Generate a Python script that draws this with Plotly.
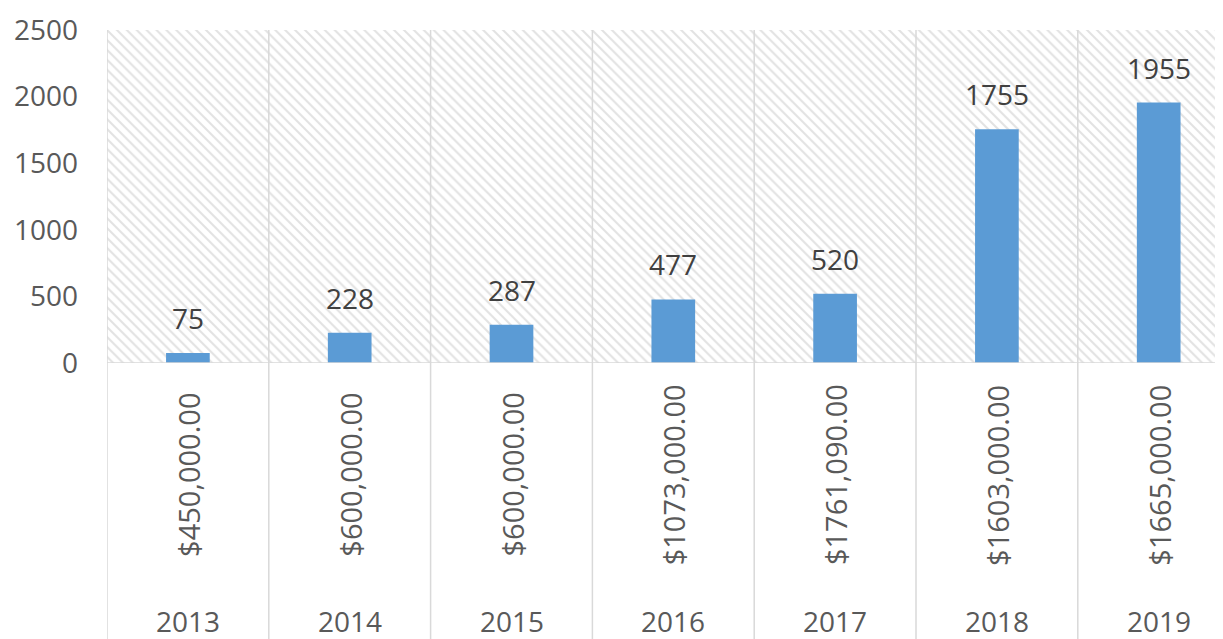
import plotly.graph_objects as go

years = ["2013", "2014", "2015", "2016", "2017", "2018", "2019"]
funding = ["$450,000.00", "$600,000.00", "$600,000.00", "$1073,000.00",
           "$1761,090.00", "$1603,000.00", "$1665,000.00"]
values = [75, 228, 287, 477, 520, 1755, 1955]
y_ticks = [0, 500, 1000, 1500, 2000, 2500]
y_max = 2500

FONT = "Open Sans"
TXT = "#595959"
GRID = "#d9d9d9"

# page body has an 8px margin, so the figure is drawn 8px in from the window edges
W, H = 1215, 631
ML, MT, MB, MR = 99, 22, 276, 0
ph = H - MT - MB
pw = W - ML - MR
cat_px = 161.8

fig = go.Figure()

# hatched plot-area background
fig.add_trace(go.Bar(
    x=list(range(len(years))), y=[y_max] * len(years), width=1,
    marker=dict(color="white", line=dict(width=0),
                pattern=dict(shape="\\", fgcolor="#c6c6c6", bgcolor="white",
                             size=7, solidity=0.3)),
    hoverinfo="skip", showlegend=False,
))

fig.add_trace(go.Bar(
    x=list(range(len(years))), y=values, width=0.27,
    marker=dict(color="#5B9BD5", line=dict(width=0)),
    showlegend=False,
))

n = len(years)
fig.update_layout(
    width=W, height=H, barmode="overlay",
    margin=dict(l=ML, r=MR, t=MT, b=MB),
    paper_bgcolor="white", plot_bgcolor="white",
    xaxis=dict(range=[-0.5, -0.5 + pw / cat_px], showticklabels=False,
               showgrid=False, zeroline=False, showline=False, ticks=""),
    yaxis=dict(range=[0, y_max], tickvals=y_ticks, ticktext=[str(t) for t in y_ticks],
               showgrid=True, gridcolor=GRID, gridwidth=1.5, zeroline=False,
               showline=False, ticks="", ticklabelstandoff=28,
               tickfont=dict(family=FONT, size=28, color=TXT)),
)

y_bottom = -MB / ph - 0.05
# vertical category separators running through the label area
for i in range(n + 1):
    fig.add_shape(type="line", xref="x", yref="paper", x0=i - 0.5, x1=i - 0.5,
                  y0=y_bottom, y1=1, line=dict(color=GRID, width=1.5), layer="above")
# baseline
fig.add_shape(type="line", xref="paper", yref="y", x0=0, x1=1, y0=0, y1=0,
              line=dict(color=GRID, width=1.5), layer="above")

for i in range(n):
    # value labels
    fig.add_annotation(x=i, y=values[i], xref="x", yref="y", text=str(values[i]),
                       showarrow=False, xanchor="center", yanchor="bottom", yshift=14,
                       font=dict(family=FONT, size=28, color="#404040"))
    # funding labels (rotated)
    fig.add_annotation(x=i, xref="x", yref="paper", y=(355 - 467) / ph,
                       text=funding[i], textangle=-90, showarrow=False,
                       xanchor="center", yanchor="middle",
                       font=dict(family=FONT, size=29, color=TXT))
    # year labels
    fig.add_annotation(x=i, xref="x", yref="paper", y=(355 - 613) / ph,
                       text=years[i], showarrow=False,
                       xanchor="center", yanchor="middle",
                       font=dict(family=FONT, size=28, color=TXT))

fig.write_html("out.html")
